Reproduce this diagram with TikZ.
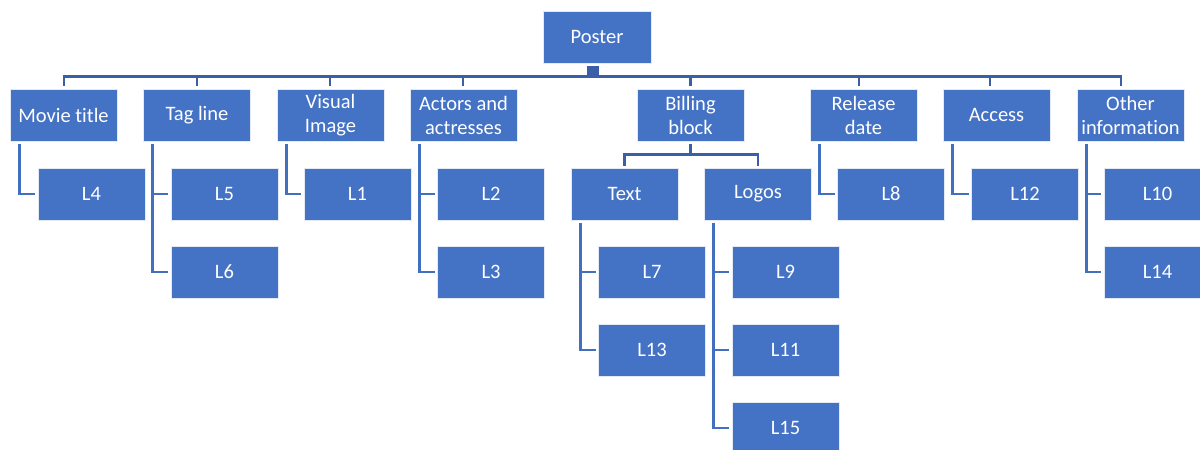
\documentclass[tikz,border=0pt]{standalone}
\usepackage{fontspec}
\setmainfont[Ligatures=NoCommon]{Carlito}
\definecolor{boxblue}{HTML}{4472C4}
\definecolor{busblue}{HTML}{3A5FA6}
\definecolor{elbowblue}{HTML}{4270BF}
\begin{document}
\begin{tikzpicture}[x=1pt,y=-1pt,
  box/.style={fill=boxblue,draw=white!85!boxblue,line width=0.8pt,minimum width=107pt,minimum height=52pt,
    inner sep=0pt,text=white,align=center,font=\fontsize{20.5}{24}\selectfont},
  bus/.style={draw=busblue,line width=2.8pt},
  elbow/.style={draw=elbowblue,line width=2.8pt}]
\useasboundingbox (0,0) rectangle (1200,450);
% root
\node[box,minimum width=108pt] (poster) at (597,37) {Poster};
% level 1
\node[box] (movie)   at (63.5,115) {Movie title};
\node[box] (tag)     at (197,115) {Tag line};
\node[box] (visual)  at (330.5,115) {Visual\\Image};
\node[box] (actors)  at (463.5,115) {Actors and\\actresses};
\node[box] (billing) at (690.5,115) {Billing\\block};
\node[box] (release) at (863.5,115) {Release\\date};
\node[box] (access)  at (996.5,115) {Access};
\node[box] (other)   at (1130.5,115) {Other\\information};
% level 2
\node[box] (L4)  at (91.5,194) {L4};
\node[box] (L5)  at (224.5,194) {L5};
\node[box] (L1)  at (357.5,194) {L1};
\node[box] (L2)  at (491,194) {L2};
\node[box] (text) at (624.5,194) {Text};
\node[box] (logos) at (758,194) {Logos};
\node[box] (L8)  at (891,194) {L8};
\node[box] (L12) at (1025,194) {L12};
\node[box] (L10) at (1157.5,194) {L10};
% level 3
\node[box] (L6)  at (224.5,272) {L6};
\node[box] (L3)  at (491,272) {L3};
\node[box] (L7)  at (652,272) {L7};
\node[box] (L9)  at (785.5,272) {L9};
\node[box] (L14) at (1157.5,272) {L14};
% level 4/5
\node[box] (L13) at (652,350) {L13};
\node[box] (L11) at (785.5,350) {L11};
\node[box] (L15) at (785.5,428) {L15};
% root connector
\fill[busblue] ([xshift=-10pt,yshift=-3pt]poster.south) rectangle ([xshift=2pt,yshift=-13pt]poster.south);
\foreach \c/\dx in {movie/0.5,tag/0,visual/-0.5,actors/-0.5,billing/0,release/-4.5,access/-6.5,other/-9.5}{
  \draw[bus,shorten >=2.5pt] ([yshift=-13pt]poster.south) -| ([xshift=\dx pt]\c.north);
}
% billing sub-bus
\foreach \c in {text,logos}{
  \draw[bus,shorten >=2pt] ([yshift=-13pt]billing.south) -| (\c.north);
}
\draw[bus] ([yshift=-3pt]billing.south) -- ([yshift=-13pt]billing.south);
% elbows
\foreach \p/\c in {movie/L4,tag/L5,tag/L6,visual/L1,actors/L2,actors/L3,text/L7,text/L13,
  logos/L9,logos/L11,logos/L15,release/L8,access/L12,other/L10,other/L14}{
  \draw[elbow,shorten >=2.5pt] ([xshift=9.5pt,yshift=-3pt]\p.south west) |- (\c.west);
}
\end{tikzpicture}
\end{document}
